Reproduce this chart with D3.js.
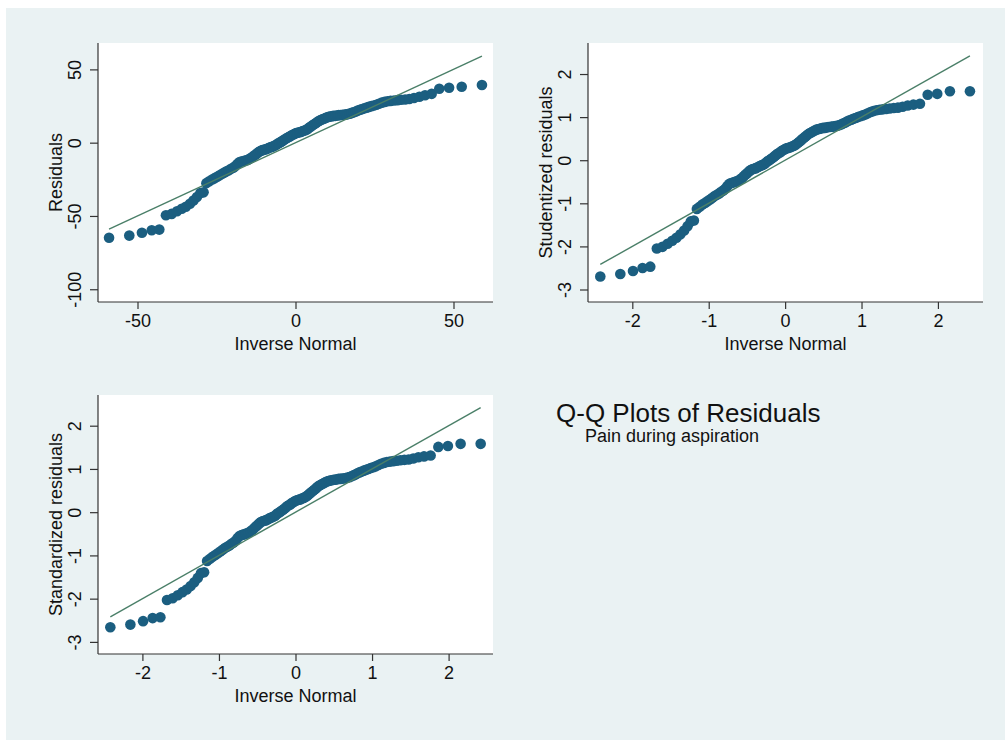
<!DOCTYPE html>
<html>
<head>
<meta charset="utf-8">
<script src="https://cdn.jsdelivr.net/npm/d3@7"></script>
<style>
  html, body { margin: 0; padding: 0; background: #fff; }
  svg { display: block; font-family: "Liberation Sans", Arial, Helvetica, sans-serif; }
</style>
</head>
<body>
<div id="chart"></div>
<script>
// ── Data ──
// inverse normal quantiles, n = 128, same for the studentized / standardized panels
const invNormZ = [-2.419,-2.157,-1.991,-1.866,-1.765,-1.679,-1.605,-1.538,-1.477,-1.422,-1.370,-1.322,-1.277,-1.235,-1.194,-1.155,
  -1.118,-1.083,-1.048,-1.015,-0.983,-0.952,-0.922,-0.893,-0.864,-0.836,-0.809,-0.782,-0.756,-0.731,-0.705,-0.681,
  -0.656,-0.632,-0.609,-0.586,-0.563,-0.540,-0.518,-0.496,-0.474,-0.452,-0.431,-0.410,-0.389,-0.368,-0.347,-0.326,
  -0.306,-0.286,-0.266,-0.246,-0.226,-0.206,-0.186,-0.166,-0.146,-0.127,-0.107,-0.088,-0.068,-0.049,-0.029,-0.010,
  0.010,0.029,0.049,0.068,0.088,0.107,0.127,0.146,0.166,0.186,0.206,0.226,0.246,0.266,0.286,0.306,
  0.326,0.347,0.368,0.389,0.410,0.431,0.452,0.474,0.496,0.518,0.540,0.563,0.586,0.609,0.632,0.656,
  0.681,0.705,0.731,0.756,0.782,0.809,0.836,0.864,0.893,0.922,0.952,0.983,1.015,1.048,1.083,1.118,
  1.155,1.194,1.235,1.277,1.322,1.370,1.422,1.477,1.538,1.605,1.679,1.765,1.866,1.991,2.157,2.419];

// inverse normal in residual units (panel 1)
const invNormRes = [-59.0,-52.6,-48.6,-45.5,-43.1,-41.0,-39.2,-37.5,-36.0,-34.7,-33.4,-32.3,-31.2,-30.1,-29.1,-28.2,
  -27.3,-26.4,-25.6,-24.8,-24.0,-23.2,-22.5,-21.8,-21.1,-20.4,-19.7,-19.1,-18.4,-17.8,-17.2,-16.6,
  -16.0,-15.4,-14.9,-14.3,-13.7,-13.2,-12.6,-12.1,-11.6,-11.0,-10.5,-10.0,-9.5,-9.0,-8.5,-8.0,
  -7.5,-7.0,-6.5,-6.0,-5.5,-5.0,-4.5,-4.1,-3.6,-3.1,-2.6,-2.1,-1.7,-1.2,-0.7,-0.2,
  0.2,0.7,1.2,1.7,2.1,2.6,3.1,3.6,4.1,4.5,5.0,5.5,6.0,6.5,7.0,7.5,
  8.0,8.5,9.0,9.5,10.0,10.5,11.0,11.6,12.1,12.6,13.2,13.7,14.3,14.9,15.4,16.0,
  16.6,17.2,17.8,18.4,19.1,19.7,20.4,21.1,21.8,22.5,23.2,24.0,24.8,25.6,26.4,27.3,
  28.2,29.1,30.1,31.2,32.3,33.4,34.7,36.0,37.5,39.2,41.0,43.1,45.5,48.6,52.6,59.0];

const residuals = [-64.9,-63.4,-61.5,-59.8,-59.3,-49.5,-48.6,-46.8,-45.1,-43.7,-41.7,-39.5,-37.1,-34.4,-33.9,-27.6,-26.4,-25.1,-24.2,-23.2,
  -22.2,-21.2,-20.3,-19.5,-18.8,-17.8,-17.1,-16.1,-14.6,-13.4,-12.9,-12.7,-12.2,-12.0,-11.5,-10.7,-10.0,-9.0,-8.1,-7.3,
  -6.3,-5.6,-5.1,-4.9,-4.6,-4.1,-3.7,-3.2,-2.9,-2.4,-2.0,-1.2,-0.5,0.0,0.7,1.2,2.0,2.7,3.4,3.9,
  4.4,5.1,5.6,6.1,6.6,6.8,7.1,7.3,7.8,8.1,8.5,9.0,9.8,10.5,11.2,12.0,12.7,13.4,14.2,14.9,
  15.4,15.9,16.3,16.8,17.3,17.6,17.8,18.1,18.3,18.3,18.5,18.8,18.8,19.0,19.0,19.3,19.5,19.8,20.3,20.7,
  21.2,22.0,22.4,22.9,23.4,23.9,24.4,24.9,25.4,25.9,26.6,27.3,27.8,28.3,28.5,28.8,29.0,29.3,29.5,29.8,
  30.5,31.3,32.4,33.3,36.8,37.5,38.2,39.3];

const studentized = [-2.70,-2.64,-2.57,-2.50,-2.47,-2.05,-2.01,-1.94,-1.87,-1.80,-1.72,-1.63,-1.53,-1.42,-1.40,-1.13,-1.08,-1.03,-0.99,-0.95,
  -0.91,-0.87,-0.83,-0.80,-0.77,-0.73,-0.70,-0.66,-0.60,-0.55,-0.53,-0.52,-0.50,-0.49,-0.47,-0.44,-0.41,-0.37,-0.33,-0.30,
  -0.26,-0.23,-0.21,-0.20,-0.19,-0.17,-0.15,-0.13,-0.12,-0.10,-0.08,-0.05,-0.02,0.00,0.03,0.05,0.08,0.11,0.14,0.16,
  0.18,0.21,0.23,0.25,0.27,0.28,0.29,0.30,0.32,0.33,0.35,0.37,0.40,0.43,0.46,0.49,0.52,0.55,0.58,0.61,
  0.63,0.65,0.67,0.69,0.71,0.72,0.73,0.74,0.75,0.75,0.76,0.77,0.77,0.78,0.78,0.79,0.80,0.81,0.83,0.85,
  0.87,0.90,0.92,0.94,0.96,0.98,1.00,1.02,1.04,1.06,1.09,1.12,1.14,1.16,1.17,1.18,1.19,1.20,1.21,1.22,
  1.24,1.27,1.29,1.31,1.52,1.54,1.60,1.60];

const standardized = [-2.66,-2.60,-2.52,-2.45,-2.43,-2.03,-1.99,-1.92,-1.85,-1.79,-1.71,-1.62,-1.52,-1.41,-1.39,-1.13,-1.08,-1.03,-0.99,-0.95,
  -0.91,-0.87,-0.83,-0.80,-0.77,-0.73,-0.70,-0.66,-0.60,-0.55,-0.53,-0.52,-0.50,-0.49,-0.47,-0.44,-0.41,-0.37,-0.33,-0.30,
  -0.26,-0.23,-0.21,-0.20,-0.19,-0.17,-0.15,-0.13,-0.12,-0.10,-0.08,-0.05,-0.02,0.00,0.03,0.05,0.08,0.11,0.14,0.16,
  0.18,0.21,0.23,0.25,0.27,0.28,0.29,0.30,0.32,0.33,0.35,0.37,0.40,0.43,0.46,0.49,0.52,0.55,0.58,0.61,
  0.63,0.65,0.67,0.69,0.71,0.72,0.73,0.74,0.75,0.75,0.76,0.77,0.77,0.78,0.78,0.79,0.80,0.81,0.83,0.85,
  0.87,0.90,0.92,0.94,0.96,0.98,1.00,1.02,1.04,1.06,1.09,1.12,1.14,1.16,1.17,1.18,1.19,1.20,1.21,1.22,
  1.24,1.27,1.29,1.31,1.51,1.53,1.58,1.58];

const resTicksX = [-50, 0, 50];
const resTicksY = [-100, -50, 0, 50];
const zTicksX = [-2, -1, 0, 1, 2];
const zTicksY = [-3, -2, -1, 0, 1, 2];

const titleText = 'Q-Q Plots of Residuals';
const subtitleText = 'Pain during aspiration';

// ── Style ──
const BG = '#eaf2f3';
const MARKER = '#1b5e80';
const REFLINE = '#4a7f68';
const AXIS = '#333';
const FONT = 18;
const fmt = d => String(d);   // plain hyphen for negatives, like the original

const W = 1005, H = 740;
const svg = d3.select('#chart').append('svg').attr('width', W).attr('height', H);
svg.append('rect').attr('width', W).attr('height', H).attr('fill', '#fff');
svg.append('rect').attr('x', 6).attr('y', 8).attr('width', W - 6).attr('height', H - 8).attr('fill', BG);

function qqPanel(opt) {
  const x = d3.scaleLinear().domain(opt.xDomain).range([opt.left, opt.right]);
  const y = d3.scaleLinear().domain(opt.yDomain).range([opt.bottom, opt.top]);

  // plot region
  svg.append('rect')
    .attr('x', opt.left).attr('y', opt.top)
    .attr('width', opt.right - opt.left).attr('height', opt.bottom - opt.top)
    .attr('fill', '#fff');

  // points
  const pts = opt.xs.map((v, i) => ({ x: v, y: opt.ys[i] }));
  svg.append('g').selectAll('circle').data(pts).enter().append('circle')
    .attr('cx', d => x(d.x)).attr('cy', d => y(d.y))
    .attr('r', 5.3)
    .attr('fill', MARKER);

  // reference line y = x over the data range
  const x0 = opt.xs[0], x1 = opt.xs[opt.xs.length - 1];
  svg.append('line')
    .attr('x1', x(x0)).attr('y1', y(x0))
    .attr('x2', x(x1)).attr('y2', y(x1))
    .attr('stroke', REFLINE).attr('stroke-width', 1.4);

  // axes
  const ax = svg.append('g').attr('transform', 'translate(0,' + opt.bottom + ')')
    .call(d3.axisBottom(x).tickValues(opt.xTicks).tickSize(7).tickPadding(4).tickFormat(fmt));
  ax.select('.domain').attr('d', 'M' + opt.left + ',0H' + opt.right).attr('stroke', AXIS).attr('stroke-width', 1.2);
  ax.selectAll('.tick line').attr('stroke', AXIS).attr('stroke-width', 1.2);
  ax.selectAll('.tick text')
    .attr('y', 25).attr('dy', null)
    .style('font-size', FONT + 'px').style('fill', '#111')
    .style('font-family', '"Liberation Sans", Arial, sans-serif');

  const ay = svg.append('g').attr('transform', 'translate(' + opt.left + ',0)')
    .call(d3.axisLeft(y).tickValues(opt.yTicks).tickSize(8).tickFormat(fmt));
  ay.select('.domain').attr('d', 'M0,' + opt.top + 'V' + opt.bottom).attr('stroke', AXIS).attr('stroke-width', 1.2);
  ay.selectAll('.tick line').attr('stroke', AXIS).attr('stroke-width', 1.2);
  ay.selectAll('.tick text')
    .attr('x', null).attr('dy', null)
    .attr('transform', 'translate(-17,0) rotate(-90)')
    .attr('text-anchor', 'middle')
    .style('font-size', FONT + 'px').style('fill', '#111')
    .style('font-family', '"Liberation Sans", Arial, sans-serif');

  // axis titles
  svg.append('text')
    .attr('x', (opt.left + opt.right) / 2).attr('y', opt.bottom + 48)
    .attr('text-anchor', 'middle').style('font-size', FONT + 'px').style('fill', '#111')
    .text('Inverse Normal');
  svg.append('text')
    .attr('transform', 'translate(' + (opt.left - 36) + ',' + ((opt.top + opt.bottom) / 2) + ') rotate(-90)')
    .attr('text-anchor', 'middle').style('font-size', FONT + 'px').style('fill', '#111')
    .text(opt.yLabel);
}

qqPanel({
  left: 98, right: 493, top: 43, bottom: 302,
  xDomain: [-62.5, 62.5], yDomain: [-108.7, 68],
  xs: invNormRes, ys: residuals,
  xTicks: resTicksX, yTicks: resTicksY, yLabel: 'Residuals'
});

qqPanel({
  left: 588, right: 983, top: 43, bottom: 302,
  xDomain: [-2.58, 2.59], yDomain: [-3.29, 2.72],
  xs: invNormZ, ys: studentized,
  xTicks: zTicksX, yTicks: zTicksY, yLabel: 'Studentized residuals'
});

qqPanel({
  left: 98, right: 493, top: 395, bottom: 654,
  xDomain: [-2.58, 2.58], yDomain: [-3.28, 2.71],
  xs: invNormZ, ys: standardized,
  xTicks: zTicksX, yTicks: zTicksY, yLabel: 'Standardized residuals'
});

// ── Title block ──
svg.append('text').attr('x', 556).attr('y', 422)
  .style('font-size', '26px').style('fill', '#111')
  .text(titleText);
svg.append('text').attr('x', 585).attr('y', 442)
  .style('font-size', '18px').style('fill', '#111')
  .text(subtitleText);
</script>
</body>
</html>
